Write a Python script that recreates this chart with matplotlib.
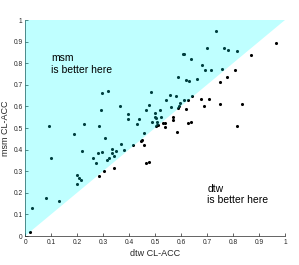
import numpy as np
import matplotlib
matplotlib.use('Agg')
import matplotlib.pyplot as plt
from matplotlib.ticker import FormatStrFormatter

plt.rcParams['font.family'] = ['Liberation Sans', 'DejaVu Sans']

# dtw CL-ACC (x) vs msm CL-ACC (y)
dtw = [0.017, 0.027, 0.080, 0.131, 0.098, 0.092, 0.187, 0.224, 0.285, 0.217,
       0.198, 0.205, 0.216, 0.198, 0.259, 0.272, 0.278, 0.296, 0.282, 0.303,
       0.308, 0.314, 0.323, 0.332, 0.335, 0.349, 0.342, 0.342, 0.367, 0.378,
       0.414, 0.447, 0.458, 0.458, 0.464, 0.476, 0.295, 0.319, 0.290, 0.364,
       0.396, 0.394, 0.430, 0.436, 0.463, 0.475, 0.485, 0.735, 0.608, 0.612,
       0.700, 0.766, 0.781, 0.815, 0.637, 0.964, 0.868, 0.680, 0.691, 0.714,
       0.755, 0.808, 0.589, 0.619, 0.630, 0.660, 0.748, 0.776, 0.557, 0.580,
       0.612, 0.626, 0.642, 0.677, 0.705, 0.688, 0.750, 0.835, 0.618, 0.542,
       0.519, 0.590, 0.594, 0.586, 0.560, 0.499, 0.498, 0.503, 0.522, 0.487,
       0.505, 0.505, 0.512, 0.503, 0.528, 0.569, 0.569, 0.538, 0.536, 0.582,
       0.626, 0.638, 0.815, 0.446]
msm = [0.020, 0.131, 0.175, 0.164, 0.360, 0.509, 0.474, 0.517, 0.509, 0.395,
       0.283, 0.270, 0.257, 0.242, 0.360, 0.340, 0.382, 0.391, 0.276, 0.300,
       0.454, 0.354, 0.360, 0.402, 0.382, 0.394, 0.371, 0.314, 0.427, 0.399,
       0.423, 0.443, 0.479, 0.421, 0.338, 0.343, 0.664, 0.671, 0.583, 0.603,
       0.564, 0.542, 0.519, 0.542, 0.583, 0.606, 0.668, 0.947, 0.842, 0.842,
       0.869, 0.869, 0.859, 0.856, 0.819, 0.895, 0.838, 0.790, 0.768, 0.768,
       0.771, 0.768, 0.736, 0.723, 0.717, 0.725, 0.715, 0.734, 0.652, 0.647,
       0.629, 0.631, 0.648, 0.634, 0.635, 0.602, 0.609, 0.613, 0.586, 0.629,
       0.584, 0.604, 0.615, 0.593, 0.595, 0.569, 0.553, 0.546, 0.552, 0.530,
       0.529, 0.515, 0.515, 0.509, 0.525, 0.552, 0.535, 0.522, 0.505, 0.481,
       0.522, 0.527, 0.511, 0.440]

ticks = [0, 0.1, 0.2, 0.3, 0.4, 0.5, 0.6, 0.7, 0.8, 0.9, 1]
gray = '#262626'

fig = plt.figure(figsize=(2.99, 2.65), dpi=100)
ax = fig.add_axes([0.0846, 0.1094, 0.8696, 0.8151])

ax.scatter(dtw, msm, s=5, color='k', linewidths=0, zorder=2)
# shaded triangle above the diagonal (msm wins)
ax.fill([0, 0, 1], [0, 1, 1], color=(0, 1, 1), alpha=0.25, linewidth=0, zorder=3)

ax.text(0.099, 0.797, 'msm\nis better here', fontsize=7.5, va='center', ha='left', zorder=4)
ax.text(0.70, 0.192, 'dtw\nis better here', fontsize=7.5, va='center', ha='left', zorder=4)

ax.set_xlim(0, 1)
ax.set_ylim(0, 1)
ax.set_xticks(ticks)
ax.set_yticks(ticks)
ax.xaxis.set_major_formatter(FormatStrFormatter('%g'))
ax.yaxis.set_major_formatter(FormatStrFormatter('%g'))
ax.tick_params(direction='in', length=2, width=0.5, labelsize=4.8, colors=gray, pad=2)
for s in ['top', 'right']:
    ax.spines[s].set_visible(False)
for s in ['left', 'bottom']:
    ax.spines[s].set_color(gray)
    ax.spines[s].set_linewidth(0.5)

ax.set_xlabel('dtw CL-ACC', fontsize=6.5, color=gray, labelpad=2)
ax.set_ylabel('msm CL-ACC', fontsize=6.5, color=gray, labelpad=2)

fig.savefig('out.png', dpi=100)
